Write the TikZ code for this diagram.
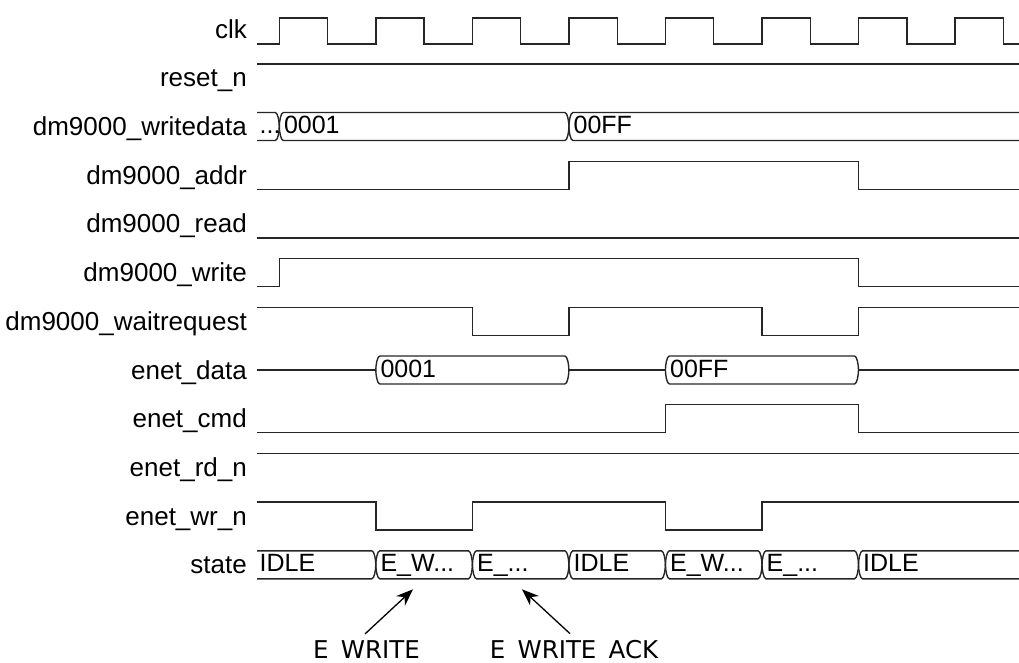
\documentclass[tikz,border=0pt]{standalone}
\usepackage{fontspec}
\setmainfont{Liberation Sans}
\newfontfamily\dvsfont{DejaVu Sans}
\usetikzlibrary{arrows.meta}
\tikzset{
  sig/.style={line width=1.4pt, draw=black!85, line join=miter},
  lbl/.style={anchor=base east, inner sep=0pt, font=\fontsize{26}{31}\selectfont},
  val/.style={anchor=base west, inner sep=0pt, font=\fontsize{25}{30}\selectfont},
  note/.style={anchor=base, inner sep=0pt, font=\dvsfont\fontsize{24.5}{29}\selectfont},
  pointer/.style={line width=1.3pt, -{Stealth[length=17pt,width=13pt]}},
}
% bus segment with ( at #1 and ) at #2, mid y #3, text #4, node name #5
\newcommand\tdbus[5]{%
  \draw[sig] ({#1+4},{#3-14}) .. controls ({#1+1.5},{#3-14}) and (#1,{#3-5}) .. (#1,#3)
    .. controls (#1,{#3+5}) and ({#1+1.5},{#3+14}) .. ({#1+4},{#3+14}) -- ({#2-4},{#3+14})
    .. controls ({#2-1.5},{#3+14}) and (#2,{#3+5}) .. (#2,#3)
    .. controls (#2,{#3-5}) and ({#2-1.5},{#3-14}) .. ({#2-4},{#3-14}) -- cycle;
  \node[val] (#5) at ({#1+4.5},{#3+7}) {#4};}
% bus segment open at the left edge (257) ending with ) at #1
\newcommand\tdbusL[4]{%
  \draw[sig] (257,{#2-14}) -- ({#1-4},{#2-14})
    .. controls ({#1-1.5},{#2-14}) and (#1,{#2-5}) .. (#1,#2)
    .. controls (#1,{#2+5}) and ({#1-1.5},{#2+14}) .. ({#1-4},{#2+14}) -- (257,{#2+14});
  \node[val] (#4) at (259.5,{#2+7}) {#3};}
% bus segment starting with ( at #1 and open at the right edge
\newcommand\tdbusR[4]{%
  \draw[sig] (1019,{#2-14}) -- ({#1+4},{#2-14})
    .. controls ({#1+1.5},{#2-14}) and (#1,{#2-5}) .. (#1,#2)
    .. controls (#1,{#2+5}) and ({#1+1.5},{#2+14}) .. ({#1+4},{#2+14}) -- (1019,{#2+14});
  \node[val] (#4) at ({#1+4.5},{#2+7}) {#3};}
\begin{document}
\begin{tikzpicture}[x=1pt,y=-1pt]
\useasboundingbox (0,0) rectangle (1019,662);

% labels
\node[lbl] (Lclk)   at (247,38.1)  {clk};
\node[lbl] (Lrst)   at (247,86.8)  {reset\_n};
\node[lbl] (Lwd)    at (247,135.5) {dm9000\_writedata};
\node[lbl] (Laddr)  at (247,184.2) {dm9000\_addr};
\node[lbl] (Lrd)    at (247,232.9) {dm9000\_read};
\node[lbl] (Lwr)    at (247,281.6) {dm9000\_write};
\node[lbl] (Lwait)  at (247,330.3) {dm9000\_waitrequest};
\node[lbl] (Ledata) at (247,379.0) {enet\_data};
\node[lbl] (Lecmd)  at (247,427.7) {enet\_cmd};
\node[lbl] (Lerd)   at (247,476.4) {enet\_rd\_n};
\node[lbl] (Lewr)   at (247,525.1) {enet\_wr\_n};
\node[lbl] (Lstate) at (247,573.8) {state};

% clk
\draw[sig] (257,44) -- (279.3,44) -- (279.3,18) -- (327.6,18) -- (327.6,44)
  -- (375.8,44) -- (375.8,18) -- (424.1,18) -- (424.1,44)
  -- (472.4,44) -- (472.4,18) -- (520.6,18) -- (520.6,44)
  -- (568.9,44) -- (568.9,18) -- (617.2,18) -- (617.2,44)
  -- (665.4,44) -- (665.4,18) -- (713.7,18) -- (713.7,44)
  -- (762.0,44) -- (762.0,18) -- (810.2,18) -- (810.2,44)
  -- (858.5,44) -- (858.5,18) -- (906.8,18) -- (906.8,44)
  -- (955.0,44) -- (955.0,18) -- (1003.3,18) -- (1003.3,44) -- (1019,44);

% reset_n
\draw[sig] (257,63.8) -- (1019,63.8);

% dm9000_writedata
\tdbusL{279.3}{126.5}{...}{wd0}
\tdbus{279.3}{568.9}{126.5}{0001}{wd1}
\tdbusR{568.9}{126.5}{00FF}{wd2}

% dm9000_addr
\draw[sig] (257,189.2) -- (568.9,189.2) -- (568.9,161.2) -- (858.5,161.2) -- (858.5,189.2) -- (1019,189.2);

% dm9000_read
\draw[sig] (257,237.9) -- (1019,237.9);

% dm9000_write
\draw[sig] (257,286.6) -- (279.3,286.6) -- (279.3,258.6) -- (858.5,258.6) -- (858.5,286.6) -- (1019,286.6);

% dm9000_waitrequest
\draw[sig] (257,307.3) -- (472.4,307.3) -- (472.4,335.3) -- (568.9,335.3) -- (568.9,307.3)
  -- (762.0,307.3) -- (762.0,335.3) -- (858.5,335.3) -- (858.5,307.3) -- (1019,307.3);

% enet_data
\draw[sig] (257,370) -- (375.8,370);
\tdbus{375.8}{568.9}{370}{0001}{ed1}
\draw[sig] (568.9,370) -- (665.4,370);
\tdbus{665.4}{858.5}{370}{00FF}{ed2}
\draw[sig] (858.5,370) -- (1019,370);

% enet_cmd
\draw[sig] (257,432.7) -- (665.4,432.7) -- (665.4,404.7) -- (858.5,404.7) -- (858.5,432.7) -- (1019,432.7);

% enet_rd_n
\draw[sig] (257,453.4) -- (1019,453.4);

% enet_wr_n
\draw[sig] (257,502.1) -- (375.8,502.1) -- (375.8,530.1) -- (472.4,530.1) -- (472.4,502.1)
  -- (665.4,502.1) -- (665.4,530.1) -- (762.0,530.1) -- (762.0,502.1) -- (1019,502.1);

% state
\tdbusL{375.8}{564.8}{IDLE}{st0}
\tdbus{375.8}{472.4}{564.8}{E\_W...}{st1}
\tdbus{472.4}{568.9}{564.8}{E\_...}{st2}
\tdbus{568.9}{665.4}{564.8}{IDLE}{st3}
\tdbus{665.4}{762.0}{564.8}{E\_W...}{st4}
\tdbus{762.0}{858.5}{564.8}{E\_...}{st5}
\tdbusR{858.5}{564.8}{IDLE}{st6}

% annotations (the underscores fall below the picture's lower edge)
\node[note] (nw)  at (366.5,658) {E\hphantom{\_}WRITE};
\node[note] (nwa) at (574,658)   {E\hphantom{\_}WRITE\hphantom{\_}ACK};
\coordinate (hw)  at (413,589.3);
\coordinate (hwa) at (522,589.3);
\draw[pointer] ([xshift=-1.5pt,yshift=6pt]nw.north) -- (hw);
\draw[pointer] ([xshift=-4pt,yshift=6pt]nwa.north) -- (hwa);
\end{tikzpicture}
\end{document}
